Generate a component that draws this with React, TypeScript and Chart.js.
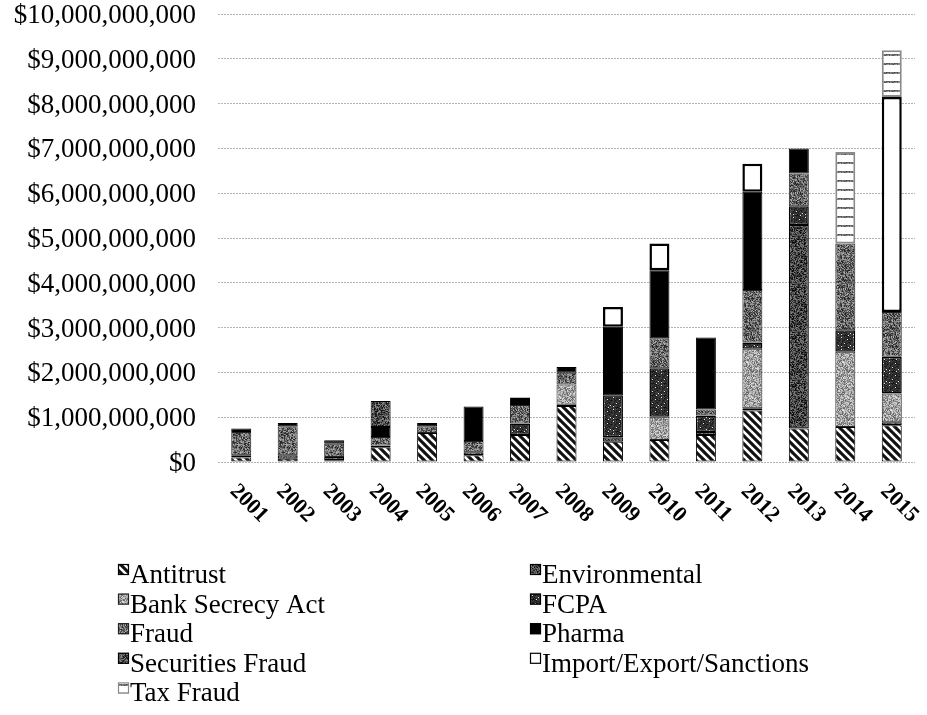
import { useEffect, useRef } from 'react';
import { Chart, registerables } from 'chart.js';

Chart.register(...registerables);

// Categories
const years = ['2001', '2002', '2003', '2004', '2005', '2006', '2007', '2008', '2009', '2010', '2011', '2012', '2013', '2014', '2015'];

// Series values, in millions of US dollars
const antitrust = [100, 75, 40, 330, 650, 150, 600, 1250, 450, 490, 600, 1150, 750, 780, 820];
const environmental = [50, 75, 70, 40, 0, 70, 0, 30, 100, 0, 70, 50, 4540, 0, 70];
const bankSecrecyAct = [0, 0, 0, 0, 0, 0, 0, 450, 0, 520, 0, 1330, 0, 1680, 640];
const fcpa = [0, 0, 0, 0, 0, 0, 260, 0, 940, 1080, 370, 140, 420, 480, 820];
const fraud = [520, 650, 300, 190, 150, 250, 410, 260, 0, 670, 130, 1170, 730, 1940, 1000];
const pharma = [75, 70, 75, 220, 70, 770, 70, 130, 1530, 1520, 1610, 2190, 560, 0, 0];
const securitiesFraud = [0, 0, 0, 580, 0, 0, 0, 0, 0, 0, 0, 0, 0, 0, 0];
const importExport = [0, 0, 0, 0, 0, 0, 100, 0, 440, 600, 0, 630, 0, 0, 4800];
const taxFraud = [0, 0, 0, 0, 0, 0, 0, 0, 0, 0, 0, 0, 0, 2040, 1040];

// Axis
const yMax = 10000; // millions
const yStep = 1000; // millions

// Legend layout (two columns, as in the picture)
const legendColumn1 = ['Antitrust', 'Bank Secrecy Act', 'Fraud', 'Securities Fraud', 'Tax Fraud'];
const legendColumn2 = ['Environmental', 'FCPA', 'Pharma', 'Import/Export/Sanctions'];

const FONT = '"Liberation Serif", "Times New Roman", serif';

function rng(seed: number) {
  let s = seed >>> 0;
  return () => {
    s = (Math.imul(s, 1664525) + 1013904223) >>> 0;
    return s / 4294967296;
  };
}

function makeTile(w: number, h: number, draw: (g: CanvasRenderingContext2D, img: ImageData) => void, useImage = false) {
  const c = document.createElement('canvas');
  c.width = w;
  c.height = h;
  const g = c.getContext('2d')!;
  if (useImage) {
    const img = g.createImageData(w, h);
    draw(g, img);
    g.putImageData(img, 0, 0);
  } else {
    draw(g, null as any);
  }
  return c;
}

function noise(ctx: CanvasRenderingContext2D, base: number, spread: number, seed: number) {
  const size = 48;
  const tile = makeTile(size, size, (_g, img) => {
    const r = rng(seed);
    for (let i = 0; i < size * size; i++) {
      let v = base + (r() - 0.5) * spread;
      v = Math.max(0, Math.min(255, Math.round(v)));
      img.data[i * 4] = v;
      img.data[i * 4 + 1] = v;
      img.data[i * 4 + 2] = v;
      img.data[i * 4 + 3] = 255;
    }
  }, true);
  return ctx.createPattern(tile, 'repeat')!;
}

function stripes(ctx: CanvasRenderingContext2D) {
  const s = 8;
  const tile = makeTile(s, s, (g) => {
    g.fillStyle = '#111';
    g.fillRect(0, 0, s, s);
    g.strokeStyle = '#fff';
    g.lineWidth = 2.6;
    for (const o of [-s, 0, s]) {
      g.beginPath();
      g.moveTo(o - 1, -1);
      g.lineTo(o + s + 1, s + 1);
      g.stroke();
    }
  });
  return ctx.createPattern(tile, 'repeat')!;
}

function dots(ctx: CanvasRenderingContext2D) {
  const s = 12;
  const tile = makeTile(s, s, (_g, img) => {
    const r = rng(7);
    for (let i = 0; i < s * s; i++) {
      const v = Math.round(20 + r() * 50);
      img.data[i * 4] = v;
      img.data[i * 4 + 1] = v;
      img.data[i * 4 + 2] = v;
      img.data[i * 4 + 3] = 255;
    }
    const pts = [[1, 1], [7, 3], [4, 7], [10, 9], [1, 10], [8, 11]];
    for (const [x, y] of pts) {
      const i = (y * s + x) * 4;
      img.data[i] = img.data[i + 1] = img.data[i + 2] = 230;
    }
  }, true);
  return ctx.createPattern(tile, 'repeat')!;
}

function taxBands(ctx: CanvasRenderingContext2D) {
  const w = 8;
  const h = 9;
  const tile = makeTile(w, h, (_g, img) => {
    const r = rng(99);
    for (let y = 0; y < h; y++) {
      for (let x = 0; x < w; x++) {
        const i = (y * w + x) * 4;
        const v = y < 2 ? Math.round(60 + r() * 120) : 255;
        img.data[i] = v;
        img.data[i + 1] = v;
        img.data[i + 2] = v;
        img.data[i + 3] = 255;
      }
    }
  }, true);
  return ctx.createPattern(tile, 'repeat')!;
}

function fmtDollars(millions: number) {
  const dollars = Math.round(millions * 1e6);
  return '$' + String(dollars).replace(/\B(?=(\d{3})+(?!\d))/g, ',');
}

export default function App() {
  const ref = useRef<HTMLCanvasElement | null>(null);

  useEffect(() => {
    const canvas = ref.current!;
    const ctx = canvas.getContext('2d')!;

    const styles: Record<string, { bg: any; border: any; bw: number }> = {
      'Antitrust': { bg: stripes(ctx), border: '#000', bw: 1 },
      'Environmental': { bg: noise(ctx, 68, 130, 11), border: '#000', bw: 1.2 },
      'Bank Secrecy Act': { bg: noise(ctx, 160, 130, 23), border: '#222', bw: 1 },
      'FCPA': { bg: dots(ctx), border: '#000', bw: 1.5 },
      'Fraud': { bg: noise(ctx, 104, 150, 37), border: '#222', bw: 1 },
      'Pharma': { bg: '#000', border: '#000', bw: 1 },
      'Securities Fraud': { bg: noise(ctx, 76, 140, 51), border: '#000', bw: 1 },
      'Import/Export/Sanctions': { bg: '#fff', border: '#000', bw: 2.5 },
      'Tax Fraud': { bg: taxBands(ctx), border: '#8a8a8a', bw: 2 },
    };

    const series: [string, number[]][] = [
      ['Antitrust', antitrust],
      ['Environmental', environmental],
      ['Bank Secrecy Act', bankSecrecyAct],
      ['FCPA', fcpa],
      ['Fraud', fraud],
      ['Pharma', pharma],
      ['Securities Fraud', securitiesFraud],
      ['Import/Export/Sanctions', importExport],
      ['Tax Fraud', taxFraud],
    ];

    const datasets = series.map(([label, values]) => ({
      label,
      data: values,
      backgroundColor: styles[label].bg,
      borderColor: styles[label].border,
      borderWidth: styles[label].bw,
      borderSkipped: false as const,
      barPercentage: 0.43,
      categoryPercentage: 1,
    }));

    const xLabelsPlugin = {
      id: 'diagYearLabels',
      afterDraw(chart: any) {
        const c = chart.ctx as CanvasRenderingContext2D;
        const xs = chart.scales.x;
        const bottom = chart.chartArea.bottom;
        c.save();
        c.font = `bold 22px ${FONT}`;
        c.fillStyle = '#000';
        c.textAlign = 'left';
        c.textBaseline = 'middle';
        years.forEach((yr, i) => {
          const px = xs.getPixelForTick(i);
          c.save();
          c.translate(px - 8, bottom + 26);
          c.rotate(Math.PI / 4);
          c.fillText(yr, 0, 0);
          c.restore();
        });
        c.restore();
      },
    };

    const legendPlugin = {
      id: 'twoColLegend',
      afterDraw(chart: any) {
        const c = chart.ctx as CanvasRenderingContext2D;
        c.save();
        c.font = `27px ${FONT}`;
        c.fillStyle = '#000';
        c.textAlign = 'left';
        c.textBaseline = 'alphabetic';
        const cols: [string[], number][] = [[legendColumn1, 118], [legendColumn2, 530]];
        cols.forEach(([names, x0]) => {
          names.forEach((name, row) => {
            const base = 583 + row * 29.6;
            const st = styles[name];
            c.fillStyle = st.bg;
            c.fillRect(x0, base - 19, 11, 11);
            c.strokeStyle = st.border;
            c.lineWidth = 1.2;
            c.strokeRect(x0 + 0.5, base - 18.5, 10, 10);
            c.fillStyle = '#000';
            c.fillText(name, x0 + 12, base);
          });
        });
        c.restore();
      },
    };

    const chart = new Chart(ctx, {
      type: 'bar',
      data: { labels: years, datasets },
      options: {
        animation: false,
        responsive: true,
        maintainAspectRatio: false,
        layout: { padding: { top: 14, right: 12, bottom: 253, left: 0 } },
        plugins: {
          legend: { display: false },
          tooltip: { enabled: false },
          title: { display: false },
        },
        scales: {
          x: {
            stacked: true,
            ticks: { display: false },
            grid: { display: false },
            border: { display: false },
            afterFit: (s: any) => {
              s.height = 0;
              s.paddingLeft = 0;
              s.paddingRight = 0;
            },
          },
          y: {
            stacked: true,
            min: 0,
            max: yMax,
            ticks: {
              stepSize: yStep,
              padding: 22,
              color: '#000',
              labelOffset: 2,
              font: { family: FONT, size: 27 },
              callback: (v: any) => fmtDollars(Number(v)),
            },
            grid: { color: '#b4b4b4', lineWidth: 1, drawTicks: false },
            border: { display: false, dash: [2, 1] },
            afterFit: (s: any) => {
              s.width = 218;
              s.paddingTop = 0;
              s.paddingBottom = 0;
            },
          },
        },
      },
      plugins: [xLabelsPlugin, legendPlugin],
    });

    return () => chart.destroy();
  }, []);

  return (
    <div style={{ position: 'absolute', left: 0, top: 0, width: 927, height: 715, background: '#fff' }}>
      <canvas ref={ref} />
    </div>
  );
}
